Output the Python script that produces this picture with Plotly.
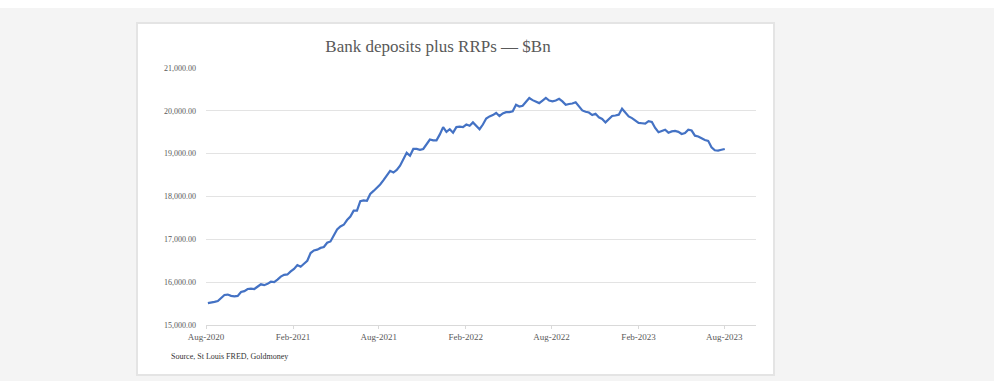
import datetime as dt
import plotly.graph_objects as go

# ---- data ----
start_date = dt.date(2020, 8, 5)
values = [
    15510, 15520, 15540, 15560, 15620, 15700, 15710, 15680, 15670, 15680,
    15770, 15790, 15840, 15850, 15840, 15900, 15950, 15930, 15960, 16010,
    16000, 16060, 16130, 16170, 16180, 16250, 16310, 16400, 16360, 16430,
    16500, 16680, 16740, 16760, 16800, 16820, 16920, 16950, 17100, 17230,
    17300, 17340, 17450, 17530, 17670, 17670, 17890, 17910, 17900, 18060,
    18130, 18200, 18280, 18380, 18500, 18600, 18560, 18620, 18720, 18870,
    19020, 18950, 19110, 19110, 19090, 19110, 19220, 19330, 19310, 19310,
    19450, 19620, 19510, 19570, 19490, 19620, 19630, 19620, 19680, 19650,
    19730, 19660, 19570, 19680, 19820, 19870, 19900, 19950, 19880, 19940,
    19970, 19970, 19990, 20140, 20100, 20120, 20210, 20300, 20250, 20210,
    20180, 20240, 20300, 20240, 20220, 20240, 20280, 20220, 20140, 20160,
    20170, 20200, 20090, 20010, 19980, 19960, 19900, 19930, 19850, 19810,
    19730, 19800, 19880, 19890, 19910, 20050, 19950, 19870, 19830, 19770,
    19720, 19710, 19700, 19760, 19740, 19600, 19500, 19530, 19560, 19490,
    19520, 19530, 19510, 19460, 19480, 19560, 19540, 19420, 19400, 19360,
    19320, 19300, 19150, 19080, 19070, 19090, 19110,
]
dates = [start_date + dt.timedelta(weeks=i) for i in range(len(values))]

tick_dates = ["2020-08-01", "2021-02-01", "2021-08-01", "2022-02-01",
              "2022-08-01", "2023-02-01", "2023-08-01"]
tick_labels = ["Aug-2020", "Feb-2021", "Aug-2021", "Feb-2022",
               "Aug-2022", "Feb-2023", "Aug-2023"]
title_text = "Bank deposits plus RRPs — $Bn"
source_text = "Source, St Louis FRED, Goldmoney"

# ---- layout geometry (pixels) ----
W, H = 994, 381
L, R, T, B = 206, 756, 68, 325
pw, ph = R - L, B - T

def px(x):
    return (x - L) / pw

def py(y):
    return (B - y) / ph

SERIF = "Liberation Serif, Times New Roman, serif"

fig = go.Figure()
fig.add_trace(go.Scatter(
    x=dates, y=values, mode="lines",
    line=dict(color="#4472C4", width=2.2),
    hoverinfo="skip", showlegend=False,
))

fig.update_layout(
    width=W, height=H,
    margin=dict(l=L, r=W - R, t=T, b=H - B, pad=0),
    paper_bgcolor="#f4f4f4",
    plot_bgcolor="rgba(0,0,0,0)",
    font=dict(family=SERIF, color="#595959"),
    title=dict(text=title_text, x=px(438), xref="paper", xanchor="center",
               y=1 - 46 / H, yref="container", yanchor="middle",
               font=dict(size=17, color="#595959", family=SERIF)),
    shapes=[
        dict(type="rect", xref="paper", yref="paper",
             x0=px(-5), x1=px(W + 5), y0=py(8), y1=py(-5),
             fillcolor="white", line=dict(width=0), layer="below"),
        dict(type="rect", xref="paper", yref="paper",
             x0=px(137), x1=px(774), y0=py(375), y1=py(23),
             fillcolor="white", line=dict(color="#e4e4e4", width=2),
             layer="below"),
    ],
    annotations=[
        dict(text=source_text, xref="paper", yref="paper",
             x=px(169), y=py(356), xanchor="left", yanchor="middle",
             showarrow=False, font=dict(size=8, color="#333333", family=SERIF)),
    ],
)

fig.update_xaxes(
    type="date",
    range=["2020-08-01", "2023-10-07"],
    tickvals=tick_dates, ticktext=tick_labels,
    showgrid=False, zeroline=False,
    showline=True, linecolor="#d9d9d9", linewidth=1,
    ticks="outside", ticklen=3, tickcolor="#d9d9d9",
    tickfont=dict(size=9, color="#595959", family=SERIF),
)
fig.update_yaxes(
    range=[15000, 21000], dtick=1000, tick0=15000,
    tickformat=",.2f",
    showgrid=True, gridcolor="#e3e3e3", gridwidth=1,
    zeroline=False, showline=False, ticks="",
    ticklabelstandoff=9,
    tickfont=dict(size=8, color="#595959", family=SERIF),
)

fig.write_html("out.html")
